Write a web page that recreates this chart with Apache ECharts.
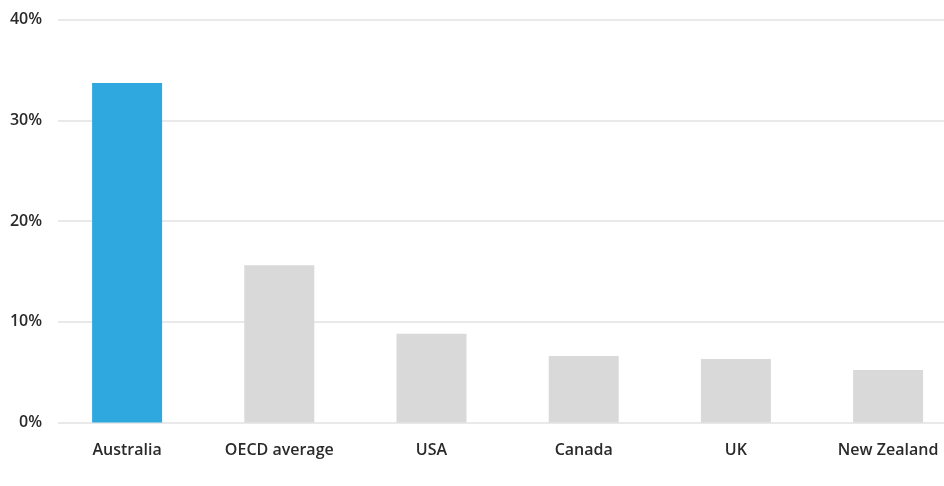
<!DOCTYPE html>
<html>
<head>
<meta charset="utf-8">
<script src="https://cdn.jsdelivr.net/npm/echarts@6/dist/echarts.min.js"></script>
<style>
	html, body { margin: 0; padding: 0; background: #fff; }
	#chart { width: 944px; height: 486px; }
</style>
</head>
<body>
<div id="chart"></div>
<script>
	var categories = ['Australia', 'OECD average', 'USA', 'Canada', 'UK', 'New Zealand'];
	var values = [33.7, 15.6, 8.8, 6.6, 6.3, 5.2];
	var barColors = ['#2ea8df', '#d9d9d9', '#d9d9d9', '#d9d9d9', '#d9d9d9', '#d9d9d9'];
	var yMin = 0, yMax = 40, yStep = 10;

	var font = '"Open Sans", "Noto Sans", sans-serif';

	// bar slots sit at i + 0.5 on a value x axis, the last one runs past the right edge
	var slots = categories.map(function (c, i) { return i + 0.5; });

	var chart = echarts.init(document.getElementById('chart'));
	chart.setOption({
		animation: false,
		// grid 0 carries the y labels and split lines, grid 1 the bars
		grid: [
			{ left: 58, right: 0, top: 19.5, bottom: 63.5 },
			{ left: 51, right: 0, top: 19.5, bottom: 63.5 }
		],
		xAxis: [{
			gridIndex: 0,
			type: 'value',
			show: false
		}, {
			gridIndex: 1,
			type: 'value',
			min: 0,
			max: 893 / 152.2,
			axisLine: { show: false },
			axisTick: { show: false },
			splitLine: { show: false },
			axisLabel: {
				customValues: slots,
				showMinLabel: true,
				showMaxLabel: true,
				formatter: function (v) {
					return categories[Math.round(v - 0.5)] || '';
				},
				margin: 20,
				color: '#2a2a2a',
				fontSize: 16,
				fontWeight: 600,
				fontFamily: font
			}
		}],
		yAxis: [{
			gridIndex: 0,
			type: 'value',
			min: yMin,
			max: yMax,
			interval: yStep,
			axisLine: { show: false },
			axisTick: { show: false },
			axisLabel: {
				formatter: '{value}%',
				margin: 16,
				color: '#2a2a2a',
				fontSize: 16,
				fontWeight: 600,
				fontFamily: font
			},
			splitLine: { lineStyle: { color: '#e2e2e2', width: 1.5 } }
		}, {
			gridIndex: 1,
			type: 'value',
			min: yMin,
			max: yMax,
			interval: yStep,
			show: false,
			splitLine: { show: false }
		}],
		series: [{
			type: 'bar',
			xAxisIndex: 1,
			yAxisIndex: 1,
			barWidth: 70,
			data: values.map(function (v, i) {
				return { value: [slots[i], v], itemStyle: { color: barColors[i] } };
			})
		}]
	});
</script>
</body>
</html>
